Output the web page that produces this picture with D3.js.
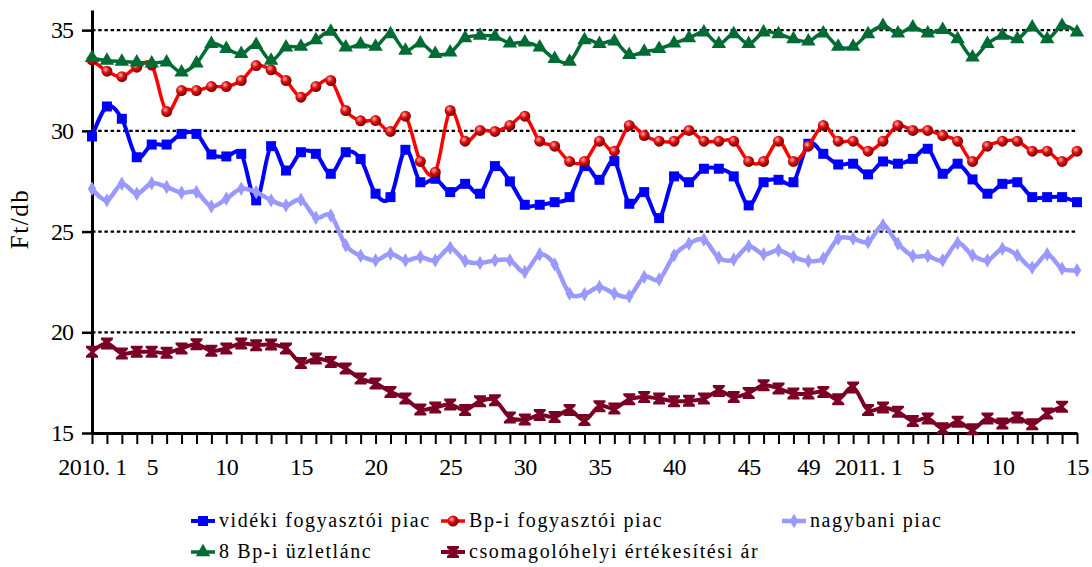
<!DOCTYPE html>
<html><head><meta charset="utf-8">
<script src="https://cdn.jsdelivr.net/npm/d3@7/dist/d3.min.js"></script>
<style>
body{margin:0;background:#fff;}
svg{display:block;}
text{font-family:"Liberation Serif","DejaVu Serif",serif;fill:#000;}
</style></head>
<body><svg id="c" width="1092" height="567"></svg>
<script>
const categories = [
"2010. 1","2010. 2","2010. 3","2010. 4","2010. 5","2010. 6","2010. 7","2010. 8","2010. 9","2010. 10",
"2010. 11","2010. 12","2010. 13","2010. 14","2010. 15","2010. 16","2010. 17","2010. 18","2010. 19","2010. 20",
"2010. 21","2010. 22","2010. 23","2010. 24","2010. 25","2010. 26","2010. 27","2010. 28","2010. 29","2010. 30",
"2010. 31","2010. 32","2010. 33","2010. 34","2010. 35","2010. 36","2010. 37","2010. 38","2010. 39","2010. 40",
"2010. 41","2010. 42","2010. 43","2010. 44","2010. 45","2010. 46","2010. 47","2010. 48","2010. 49","2010. 50",
"2010. 51","2010. 52",
"2011. 1","2011. 2","2011. 3","2011. 4","2011. 5","2011. 6","2011. 7","2011. 8","2011. 9","2011. 10",
"2011. 11","2011. 12","2011. 13","2011. 14","2011. 15"];

const tickCats  = ["2010. 1","2010. 5","2010. 10","2010. 15","2010. 20","2010. 25","2010. 30","2010. 35","2010. 40","2010. 45","2010. 49","2011. 1","2011. 5","2011. 10","2011. 15"];
const tickTexts = ["2010. 1","5","10","15","20","25","30","35","40","45","49","2011. 1","5","10","15"];
const yTicks = [15,20,25,30,35];

const videki = [29.72,31.21,30.6,28.69,29.32,29.32,29.85,29.85,28.83,28.73,28.86,26.55,29.24,28.03,28.94,28.86,27.87,28.94,28.6,26.88,
26.71,29.06,27.45,27.62,26.96,27.37,26.88,28.25,27.49,26.33,26.33,26.46,26.71,28.25,27.57,28.5,26.38,26.96,25.67,27.74,
27.45,28.12,28.12,27.74,26.3,27.45,27.57,27.45,29.36,28.86,28.33,28.37,27.84,28.48,28.37,28.61,29.11,27.87,28.37,27.59,
26.88,27.37,27.45,26.71,26.71,26.71,26.46];
const bpPiac = [33.52,32.96,32.69,33.16,33.27,30.96,32.0,32.0,32.2,32.2,32.5,33.24,33.03,32.5,31.67,32.2,32.5,31.01,30.5,30.51,
29.97,30.73,28.48,27.95,31.01,29.49,30.02,29.97,30.27,30.73,29.49,29.24,28.48,28.48,29.49,28.99,30.27,29.77,29.49,29.49,
30.02,29.49,29.49,29.49,28.48,28.48,29.49,28.48,29.24,30.27,29.49,29.49,28.99,29.49,30.27,30.02,30.02,29.77,29.49,28.48,
29.24,29.49,29.49,28.99,28.99,28.48,28.99];
const nagybani = [27.13,26.55,27.37,26.88,27.4,27.21,26.93,26.96,26.25,26.63,27.13,26.96,26.55,26.3,26.58,25.69,25.8,24.32,23.8,23.57,
23.9,23.57,23.74,23.57,24.2,23.54,23.44,23.57,23.57,22.99,23.87,23.37,21.92,21.89,22.25,21.92,21.79,22.75,22.62,23.82,
24.4,24.6,23.7,23.61,24.27,23.87,24.07,23.74,23.54,23.66,24.65,24.65,24.48,25.31,24.4,23.79,23.79,23.57,24.43,23.82,
23.57,24.15,23.82,23.21,23.87,23.16,23.08];
const uzletlanc = [33.62,33.49,33.44,33.4,33.35,33.4,32.91,33.35,34.32,34.07,33.82,34.27,33.49,34.15,34.18,34.51,34.93,34.15,34.3,34.18,
34.81,33.98,34.35,33.82,33.9,34.61,34.73,34.68,34.35,34.4,34.15,33.57,33.44,34.51,34.32,34.44,33.77,33.93,34.07,34.35,
34.61,34.89,34.32,34.81,34.32,34.89,34.81,34.56,34.44,34.84,34.18,34.18,34.81,35.22,34.84,35.14,34.84,35.01,34.56,33.65,
34.32,34.73,34.56,35.14,34.56,35.22,34.89];
const csomagolo = [19.03,19.44,18.95,19.03,19.03,18.98,19.2,19.41,19.08,19.2,19.44,19.36,19.39,19.2,18.48,18.7,18.53,18.2,17.7,17.46,
17.04,16.71,16.17,16.27,16.42,16.14,16.58,16.63,15.77,15.67,15.89,15.8,16.14,15.64,16.33,16.22,16.67,16.79,16.71,16.58,
16.6,16.71,17.08,16.79,16.99,17.37,17.21,16.96,16.96,17.04,16.67,17.26,16.14,16.27,16.05,15.6,15.72,15.23,15.56,15.19,
15.72,15.47,15.77,15.44,15.97,16.3];

const seriesNames = ["vidéki fogyasztói piac","Bp-i fogyasztói piac","nagybani piac","8 Bp-i üzletlánc","csomagolóhelyi értékesítési ár"];
const seriesValues = [videki,bpPiac,nagybani,uzletlanc,csomagolo];
const seriesColors = ["#0000FF","#FF0000","#9999FF","#006B33","#7B0025"];
const seriesMarkers = ["square","ball","diamond","triangle","hourglass"];
const seriesWidths = [4,3.5,4.5,3.5,4];

const svg = d3.select("#c");
const L = 92, R = 1077, T = 10, B = 433;
const x = d3.scalePoint().domain(categories).range([L,R]).padding(0);
const y = d3.scaleLinear().domain([15,36]).range([B,T]);

// gradient for ball markers
const defs = svg.append("defs");
const rg = defs.append("radialGradient").attr("id","ball").attr("cx","38%").attr("cy","35%").attr("r","65%");
rg.append("stop").attr("offset","0%").attr("stop-color","#ffb0b0");
rg.append("stop").attr("offset","45%").attr("stop-color","#e01010");
rg.append("stop").attr("offset","100%").attr("stop-color","#7a0000");

// grid
svg.append("g").selectAll("line").data(yTicks.filter(v=>v>15)).join("line")
  .attr("x1",L).attr("x2",R).attr("y1",d=>y(d)).attr("y2",d=>y(d))
  .attr("stroke","#000").attr("stroke-width",2.2).attr("stroke-dasharray","3.5,2.7");

// axes
const xTickMap = new Map(tickCats.map((c,i)=>[c,tickTexts[i]]));
const gx = svg.append("g").attr("transform",`translate(0,${B})`)
  .call(d3.axisBottom(x).tickValues(categories).tickSize(11).tickSizeOuter(0).tickPadding(6)
     .tickFormat(d=>xTickMap.has(d)?xTickMap.get(d):""));
gx.select(".domain").attr("stroke","#000").attr("stroke-width",3);
gx.selectAll(".tick line").attr("stroke","#000").attr("stroke-width",2);
gx.selectAll(".tick text").attr("font-size",24).attr("letter-spacing","-0.5px")
  .attr("font-family","'Liberation Serif',serif").attr("dy","1.05em");

const gy = svg.append("g").attr("transform",`translate(${L},0)`)
  .call(d3.axisLeft(y).tickValues(yTicks).tickSize(10).tickSizeOuter(0).tickPadding(9));
gy.select(".domain").attr("stroke","#000").attr("stroke-width",3);
gy.selectAll(".tick line").attr("stroke","#000").attr("stroke-width",2.5);
gy.selectAll(".tick text").attr("font-size",24).attr("letter-spacing","-1px")
  .attr("font-family","'Liberation Serif',serif");

svg.append("text").attr("transform","translate(28,219) rotate(-90)")
  .attr("text-anchor","middle").attr("font-size",25).attr("letter-spacing","1.5px").text("Ft/db");

// markers
function drawMarker(g, type, color){
  if(type==="square"){
    g.append("path").attr("d",d3.symbol(d3.symbolSquare,100)()).attr("fill",color);
  } else if(type==="ball"){
    g.append("circle").attr("r",5.5).attr("fill","url(#ball)");
  } else if(type==="diamond"){
    g.append("path").attr("d",d3.symbol(d3.symbolDiamond,60)()).attr("fill",color);
  } else if(type==="triangle"){
    g.append("path").attr("d",d3.symbol(d3.symbolTriangle,90)()).attr("fill",color);
  } else if(type==="hourglass"){
    const p = d3.path();
    p.moveTo(-6,-6); p.lineTo(6,-6); p.lineTo(6,-4); p.lineTo(1.5,0); p.lineTo(6,4); p.lineTo(6,6);
    p.lineTo(-6,6); p.lineTo(-6,4); p.lineTo(-1.5,0); p.lineTo(-6,-4); p.closePath();
    g.append("path").attr("d",p.toString()).attr("fill",color);
  }
}

const line = d3.line().curve(d3.curveCardinal.tension(0))
  .x((d,i)=>x(categories[i])).y(d=>y(d));

seriesValues.forEach((vals,k)=>{
  const g = svg.append("g");
  g.append("path").attr("d",line(vals)).attr("fill","none")
    .attr("stroke",seriesColors[k]).attr("stroke-width",seriesWidths[k]).attr("stroke-linejoin","round");
  vals.forEach((v,i)=>{
    const mg = g.append("g").attr("transform",`translate(${x(categories[i])},${y(v)})`);
    drawMarker(mg, seriesMarkers[k], seriesColors[k]);
  });
});

// legend
const legendPos = [[203,521],[453,521],[794,521],[203,552],[453,552]];
seriesNames.forEach((name,k)=>{
  const [cx,cy] = legendPos[k];
  const g = svg.append("g");
  g.append("line").attr("x1",cx-12).attr("x2",cx+12).attr("y1",cy).attr("y2",cy)
    .attr("stroke",seriesColors[k]).attr("stroke-width",seriesWidths[k]);
  const mg = g.append("g").attr("transform",`translate(${cx},${cy})`);
  drawMarker(mg, seriesMarkers[k], seriesColors[k]);
  g.append("text").attr("x",cx+16).attr("y",cy+6).attr("font-size",20)
    .attr("letter-spacing","1.6px").text(name);
});
</script></body></html>
